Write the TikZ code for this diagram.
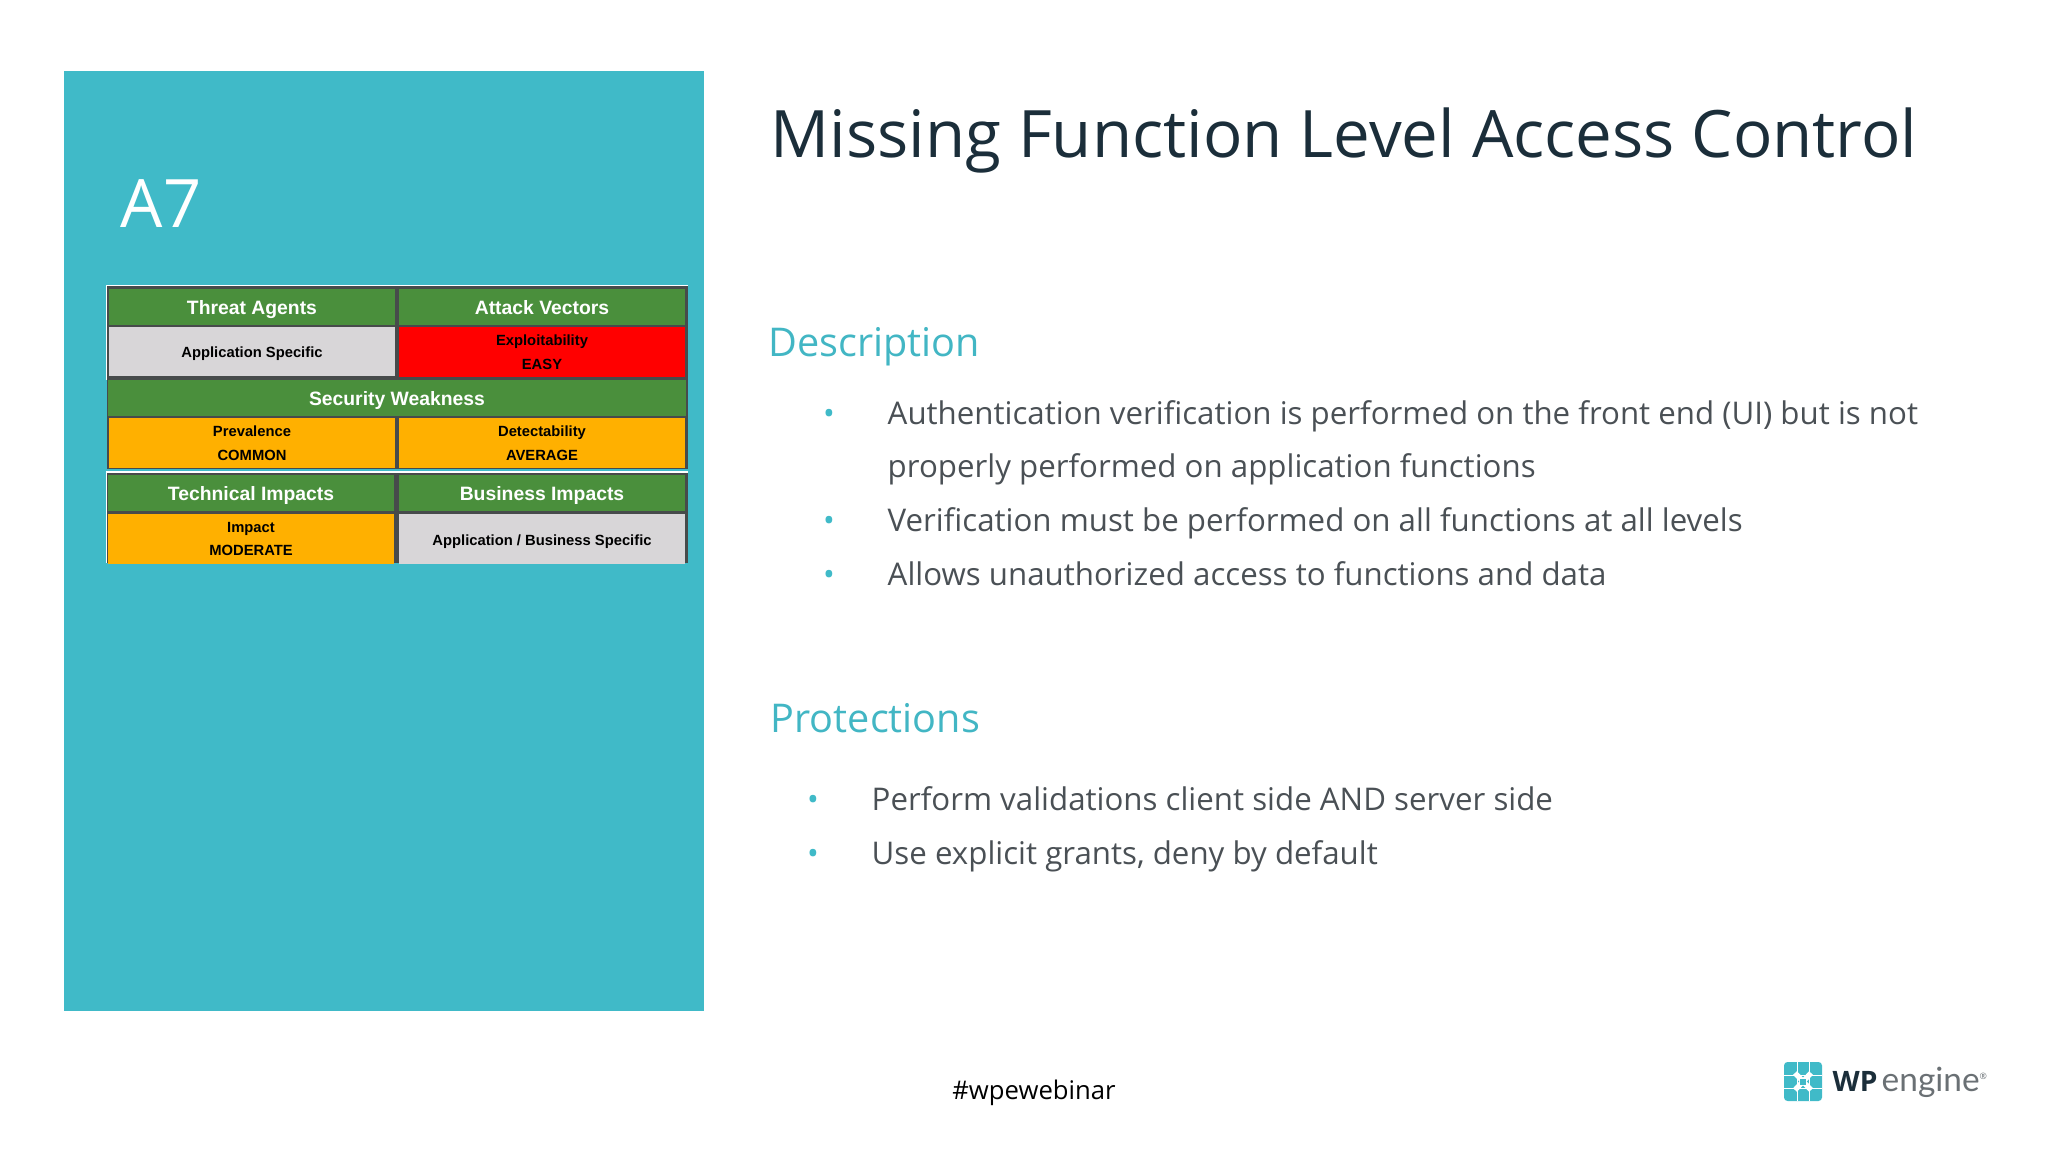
\documentclass[tikz,border=0pt]{standalone}
\usepackage{fontspec}
\setmainfont{Open Sans}
\newfontfamily\cellfont{Liberation Sans}
\newfontfamily\logofont{Lato}
\usepackage{tikz}
\usetikzlibrary{shapes,arrows}

\definecolor{panelteal}{HTML}{40BAC8}
\definecolor{headteal}{HTML}{42B6C4}
\definecolor{titleink}{HTML}{1B2E3A}
\definecolor{bodyink}{HTML}{4A5055}
\definecolor{logoink}{HTML}{6A7074}
\definecolor{cellgreen}{HTML}{4A8F3C}
\definecolor{cellgrey}{HTML}{D8D6D8}
\definecolor{cellorange}{HTML}{FFB000}
\definecolor{tableline}{HTML}{474B4B}

\tikzset{
  head/.style={fill=cellgreen, text=white, inner sep=0pt, align=center,
    minimum width=2.86cm, minimum height=0.36cm,
    text height=5pt, text depth=0.9pt,
    font=\cellfont\bfseries\fontsize{5.5}{6}\selectfont},
  cell/.style={inner sep=0pt, align=center, text=black,
    minimum width=2.86cm, minimum height=0.49cm,
    font=\cellfont\bfseries\fontsize{4.2}{6.7}\selectfont},
  single/.style={cell, text height=4pt, text depth=0.5pt},
  section/.style={anchor=base west, inner sep=0pt, text=headteal,
    font=\fontsize{11.26}{13}\selectfont},
  bodyline/.style={anchor=base west, inner sep=0pt, text=bodyink,
    font=\fontsize{8.89}{11}\selectfont},
  dot/.style={anchor=base, inner sep=0pt, text=panelteal,
    font=\fontsize{8.89}{11}\selectfont},
}

\begin{document}
\begin{tikzpicture}[x=0.01cm, y=-0.01cm]
      \useasboundingbox (0,0) rectangle (2048,1152);

      % panel
      \fill[panelteal] (64,71) rectangle (704,1011);
      \node[anchor=base west, inner sep=0pt, text=white, font=\fontsize{19}{22}\selectfont] (code) at (120,228) {A7};

      % table frame
      \fill[white] (105.5,285) rectangle (688,380);
      \fill[white] (105.5,471) rectangle (688,563);
      \fill[tableline] (107,286.5) rectangle (688,469);
      \fill[tableline] (107,473) rectangle (688,563);

      % table cells
      \node[head] (threat) at (252,307) {Threat Agents};
      \node[head] (attack) at (542,307) {Attack Vectors};
      \node[single, fill=cellgrey] (agentval) at (252,351.5) {Application Specific};
      \node[cell, fill=red] (attackval) at (542,352) {Exploitability\\EASY};
      \node[head, minimum width=5.78cm] (weakness) at (397,398) {Security Weakness};
      \node[cell, fill=cellorange] (prevalence) at (252,443) {Prevalence\\COMMON};
      \node[cell, fill=cellorange] (detect) at (542,443) {Detectability\\AVERAGE};
      \node[head] (technical) at (251,493) {Technical Impacts};
      \node[head] (business) at (542,493) {Business Impacts};
      \node[cell, fill=cellorange] (impact) at (251,539) {Impact\\MODERATE};
      \node[single, fill=cellgrey] (businessval) at (542,539) {Application / Business Specific};

      % title
      \node[anchor=base west, inner sep=0pt, text=titleink, font=\fontsize{18.6}{22}\selectfont] (title) at (770,158) {Missing Function Level Access Control};

      % description
      \node[section] (description) at (768,357) {Description};
      \node[dot] (d1) at (829,425) {•};
      \node[dot] (d2) at (829,532) {•};
      \node[dot] (d3) at (829,585) {•};
      \node[bodyline] (l1) at (887,425) {Authentication verification is performed on the front end (UI) but is not};
      \node[bodyline] (l2) at (887,478) {properly performed on application functions};
      \node[bodyline] (l3) at (887,532) {Verification must be performed on all functions at all levels};
      \node[bodyline] (l4) at (887,585) {Allows unauthorized access to functions and data};

      % protections
      \node[section] (protections) at (770,732) {Protections};
      \node[dot] (p1) at (813,810) {•};
      \node[dot] (p2) at (813,864) {•};
      \node[bodyline] (l5) at (871,810) {Perform validations client side AND server side};
      \node[bodyline] (l6) at (871,864) {Use explicit grants, deny by default};

      % footer
      \node[inner sep=0pt, text=black, font=\fontsize{7.3}{10}\selectfont] (tag) at (1034,1093) {\#wpewebinar};

      % logo
      \fill[panelteal, rounded corners=1pt] (1784,1062) rectangle (1822,1101);
      \draw[white, line width=0.2pt] (1797,1062) -- (1797,1101);
      \draw[white, line width=0.2pt] (1809,1062) -- (1809,1101);
      \draw[white, line width=0.2pt] (1784,1075) -- (1822,1075);
      \draw[white, line width=0.2pt] (1784,1088) -- (1822,1088);
      \draw[white, line width=1.5pt] (1795,1073) -- (1811,1090);
      \draw[white, line width=1.5pt] (1811,1073) -- (1795,1090);
      \fill[panelteal] (1800,1078.5) rectangle (1806,1084.5);
      \node[anchor=base west, inner sep=0pt, text=titleink, font=\bfseries\fontsize{8}{9}\selectfont] (wp) at (1832,1091) {WP};
      \node[anchor=base west, inner sep=0pt, text=logoink, font=\logofont\fontsize{9.5}{11}\selectfont] (engine) at (1881,1091) {engine};
      \node[anchor=base west, inner sep=0pt, text=logoink, font=\fontsize{2.5}{3}\selectfont] (mark) at (1979,1079) {®};
\end{tikzpicture}
\end{document}
